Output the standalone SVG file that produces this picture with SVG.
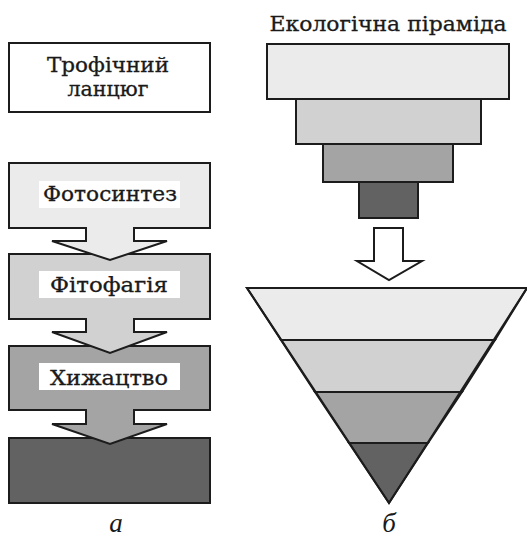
<svg xmlns="http://www.w3.org/2000/svg" width="527" height="537" viewBox="0 0 527 537">
  <style>
    .ln { stroke: #1c1c1c; stroke-width: 2; stroke-linejoin: miter; }
    .l1 { fill: #ebebeb; }
    .l2 { fill: #d1d1d1; }
    .l3 { fill: #a4a4a4; }
    .l4 { fill: #626262; }
    .txt { font-family: "DejaVu Serif", "Liberation Serif", serif; fill: #1a1a1a; text-anchor: middle; stroke: #1a1a1a; stroke-width: 0.3; }
    .tag { fill: #ffffff; }
    .cap { font-family: "Liberation Serif", "DejaVu Serif", serif; font-style: italic; font-size: 27px; fill: #1a1a1a; text-anchor: middle; }
  </style>
  <rect width="527" height="537" fill="#ffffff"/>

  <!-- Left column: trophic chain -->
  <g id="chain-title">
    <rect class="ln" x="9" y="43" width="201" height="69" fill="#ffffff"/>
    <text class="txt" x="108" y="72" font-size="19.5" textLength="122" lengthAdjust="spacingAndGlyphs">Трофічний</text>
    <text class="txt" x="108" y="96" font-size="19.5" textLength="81" lengthAdjust="spacingAndGlyphs">ланцюг</text>
  </g>

  <g id="level-4">
    <rect class="ln l4" x="9" y="438" width="201" height="65"/>
  </g>
  <g id="level-3">
    <path class="ln l3" d="M9 346 H210 V410 H134 V424 H167 L110 444 L52 424 H86 V410 H9 Z"/>
    <rect class="tag" x="39" y="363" width="141" height="27"/>
    <text class="txt" x="109" y="385" font-size="19.5" textLength="118" lengthAdjust="spacingAndGlyphs">Хижацтво</text>
  </g>
  <g id="level-2">
    <path class="ln l2" d="M9 254 H210 V319 H134 V332 H167 L110 353 L52 332 H86 V319 H9 Z"/>
    <rect class="tag" x="39" y="271" width="141" height="27"/>
    <text class="txt" x="109" y="292" font-size="19.5" textLength="118" lengthAdjust="spacingAndGlyphs">Фітофагія</text>
  </g>
  <g id="level-1">
    <path class="ln l1" d="M9 163 H210 V228 H134 V241 H167 L110 260 L52 241 H86 V228 H9 Z"/>
    <rect class="tag" x="39" y="181" width="141" height="27"/>
    <text class="txt" x="110" y="201" font-size="19.5" textLength="134" lengthAdjust="spacingAndGlyphs">Фотосинтез</text>
  </g>
  <text id="caption-a" class="cap" x="116" y="532">а</text>

  <!-- Right column: ecological pyramid -->
  <text id="pyramid-title" class="txt" x="388" y="31" font-size="20" textLength="237" lengthAdjust="spacingAndGlyphs">Екологічна піраміда</text>

  <g id="pyramid-steps">
    <rect class="ln l1" x="267" y="44" width="242" height="55"/>
    <rect class="ln l2" x="296" y="99" width="185" height="45"/>
    <rect class="ln l3" x="323" y="144" width="130" height="38"/>
    <rect class="ln l4" x="359" y="182" width="59" height="36"/>
  </g>

  <g id="connectors">
    <path class="ln" fill="#ffffff" d="M374 228 H403 V261 H422 L389 280 L357 261 H374 Z"/>
  </g>

  <g id="pyramid-triangle">
    <polygon class="ln l1" points="247,288 527,288 495,340 281,340"/>
    <polygon class="ln l2" points="281,340 495,340 462,392 315,392"/>
    <polygon class="ln l3" points="315,392 462,392 428,443 349,443"/>
    <polygon class="ln l4" points="349,443 428,443 389,503"/>
    <polygon points="247,288 527,288 389,503" fill="none" stroke="#1c1c1c" stroke-width="2"/>
  </g>
  <text id="caption-b" class="cap" x="389" y="532">б</text>
</svg>
